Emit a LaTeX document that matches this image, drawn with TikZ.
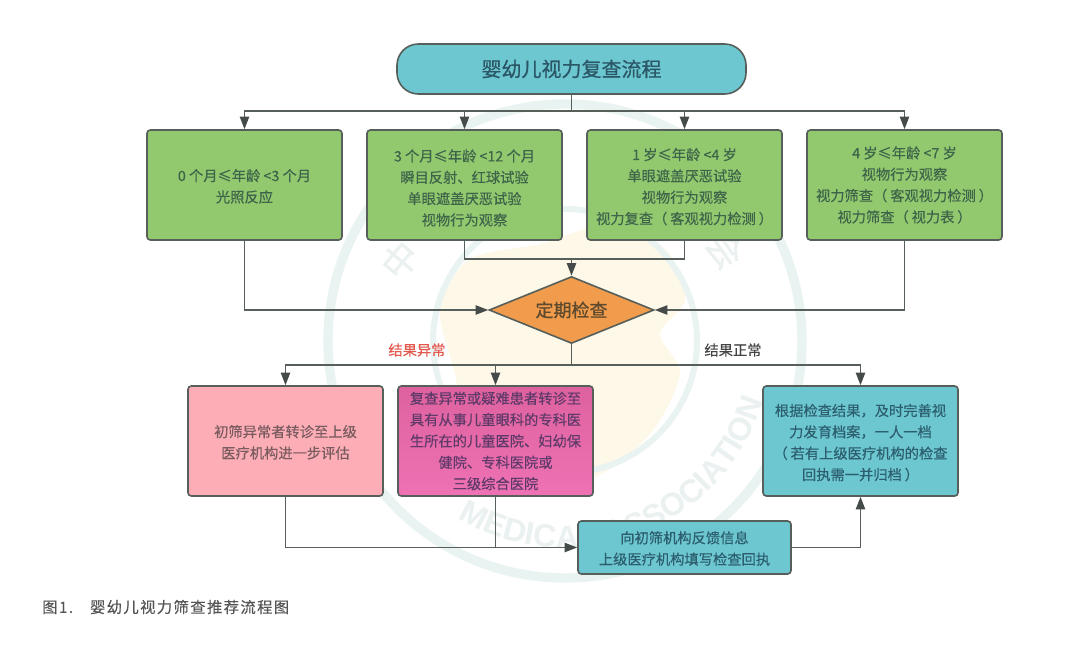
\documentclass[tikz,border=0pt]{standalone}
\usepackage{fontspec}
\setmainfont{Noto Sans CJK SC}[FakeBold=0.3]
\newfontfamily\capfont{Noto Sans CJK SC}[LetterSpace=9,FakeBold=0.3]
\newfontfamily\wmfont{Liberation Sans Bold}
\newfontfamily\titlefont{Noto Sans CJK SC}[FakeBold=0.6]
\usetikzlibrary{arrows.meta,shapes.geometric,decorations.text}
\newcommand\dropfirst[1]{\rule{0pt}{#1}}
\definecolor{lineC}{HTML}{565F5A}
\definecolor{tipC}{HTML}{454B48}
\definecolor{greenF}{HTML}{92C96F}
\definecolor{pinkF}{HTML}{FDADB5}
\definecolor{tealF}{HTML}{6CC7D0}
\definecolor{orangeF}{HTML}{F09C4C}
\definecolor{ringC}{HTML}{E8F3F2}
\definecolor{blobC}{HTML}{FEF8E9}
\definecolor{wmText}{HTML}{EBF0F0}
\definecolor{magA}{HTML}{DE619F}
\definecolor{magB}{HTML}{EE72B4}
\definecolor{greenT}{HTML}{3E6449}
\definecolor{pinkT}{HTML}{7A5C60}
\definecolor{magT}{HTML}{5F3A68}
\definecolor{tealT}{HTML}{2C5E6E}
\definecolor{titleT}{HTML}{2B5666}
\definecolor{orangeT}{HTML}{5F4A2E}
\definecolor{redT}{HTML}{E2574C}
\definecolor{darkT}{HTML}{444444}
\definecolor{capT}{HTML}{555555}
\tikzset{
  box/.style={draw=lineC,line width=1.2pt,rounded corners=2.5pt,align=center,inner sep=0pt,
    minimum width=146.25pt,minimum height=82.5pt,font=\fontsize{10.7}{16}\selectfont},
  greenbox/.style={box,fill=greenF,text=greenT},
  pinkbox/.style={box,fill=pinkF,text=pinkT},
  magbox/.style={box,top color=magA,bottom color=magB,text=magT},
  tealbox/.style={box,fill=tealF,text=tealT},
  titlebox/.style={draw=lineC,line width=1.2pt,rounded corners=16pt,fill=tealF,minimum width=261.75pt,
    minimum height=37.5pt,inner sep=0pt,font=\titlefont\fontsize{15}{18}\selectfont,text=titleT},
  decision/.style={draw=lineC,line width=1.2pt,diamond,fill=orangeF,shape aspect=2.46,inner sep=0pt,
    minimum width=123.75pt,minimum height=50.25pt,font=\titlefont\fontsize{13.5}{16}\selectfont,text=orangeT},
  conn/.style={draw=lineC,line width=1.2pt},
  arr/.style={conn,-{Triangle[length=9.5pt,width=7pt,color=tipC]}},
  lbl/.style={font=\fontsize{10.7}{14}\selectfont,inner sep=0pt},
  wm/.style={text=wmText,font=\fontsize{27}{30}\selectfont,inner sep=0pt},
}
\begin{document}
\begin{tikzpicture}[x=0.75pt,y=0.75pt]
\useasboundingbox (0,0) rectangle (1080,644);
\fill[white] (0,0) rectangle (1080,644);
% watermark
\fill[blobC] plot[smooth cycle] coordinates {(440,335)(470,385)(540,400)(610,420)(665,395)(685,345)(660,310)(680,270)(650,210)(590,165)(510,165)(470,200)(455,270)};
\draw[ringC,line width=7pt] (565,303) circle[radius=237];
\draw[ringC,line width=4.5pt] (565,303) circle[radius=132];
\path[decorate,decoration={text along path,text align=center,text={|\wmfont\fontsize{24}{26}\selectfont\color{wmText}|MEDICAL ASSOCIATION}}]
  (565,303) ++(236:207) arc[start angle=236,end angle=346,radius=207];
\node[wm,rotate=50] (wmA) at (400,384) {中};
\node[wm,rotate=-55] (wmB) at (725,394) {会};
% nodes
\node[titlebox] (title) at (571.5,575) {婴幼儿视力复查流程};
\node[greenbox] (g1) at (244.5,459) {\dropfirst{11pt}0 个月≤年龄 <3 个月\\光照反应};
\node[greenbox] (g2) at (464.5,459) {\dropfirst{13.5pt}3 个月≤年龄 <12 个月\\瞬目反射、红球试验\\单眼遮盖厌恶试验\\视物行为观察};
\node[greenbox] (g3) at (684.5,459) {\dropfirst{11.5pt}1 岁≤年龄 <4 岁\\单眼遮盖厌恶试验\\视物行为观察\\视力复查（\hspace{.2em}客观视力检测\hspace{.2em}）};
\node[greenbox] (g4) at (904.5,459) {4 岁≤年龄 <7 岁\\视物行为观察\\视力筛查（\hspace{.2em}客观视力检测\hspace{.2em}）\\视力筛查（\hspace{.2em}视力表\hspace{.2em}）};
\node[decision] (check) at (571.5,334) {定期检查};
\node[pinkbox] (p1) at (285.5,203) {\dropfirst{11pt}初筛异常者转诊至上级\\医疗机构进一步评估};
\node[magbox] (p2) at (495.5,203) {复查异常或疑难患者转诊至\\具有从事儿童眼科的专科医\\生所在的儿童医院、妇幼保\\健院、专科医院或\\三级综合医院};
\node[tealbox] (t1) at (860.5,203) {\dropfirst{11.5pt}根据检查结果，及时完善视\\力发育档案，一人一档\\（\hspace{.2em}若有上级医疗机构的检查\\回执需一并归档\hspace{.2em}）};
\node[tealbox,minimum width=159.75pt,minimum height=39.75pt] (fb) at (684.5,96.5) {\dropfirst{10.5pt}向初筛机构反馈信息\\上级医疗机构填写检查回执};
\node[lbl,text=redT] (labA) at (417,294) {结果异常};
\node[lbl,text=darkT] (labB) at (733,294) {结果正常};
\node[anchor=west,inner sep=0pt,text=capT,font=\capfont\fontsize{11.5}{14}\selectfont] (cap) at (42,37) {图1.\hspace{1.1em}婴幼儿视力筛查推荐流程图};
% junctions
\coordinate (busTop) at (571.5,533);
\coordinate (busMid) at (571.5,385);
\coordinate (busLow) at (571.5,279);
% connectors
\draw[conn] (title.south) -- (busTop);
\foreach \n in {g1,g2,g3,g4} \draw[arr] (busTop) -| (\n.north);
\draw[conn] (g2.south) |- (busMid);
\draw[conn] (g3.south) |- (busMid);
\draw[arr] (busMid) -- (check.north);
\draw[arr] (g1.south) |- (check.west);
\draw[arr] (g4.south) |- (check.east);
\draw[conn] (check.south) -- (busLow);
\foreach \n in {p1,p2,t1} \draw[arr] (busLow) -| (\n.north);
\draw[arr] (p1.south) |- (fb.west);
\draw[conn] (p2.south) -- (p2.south |- fb.west);
\draw[arr] (fb.east) -| (t1.south);
\end{tikzpicture}
\end{document}
